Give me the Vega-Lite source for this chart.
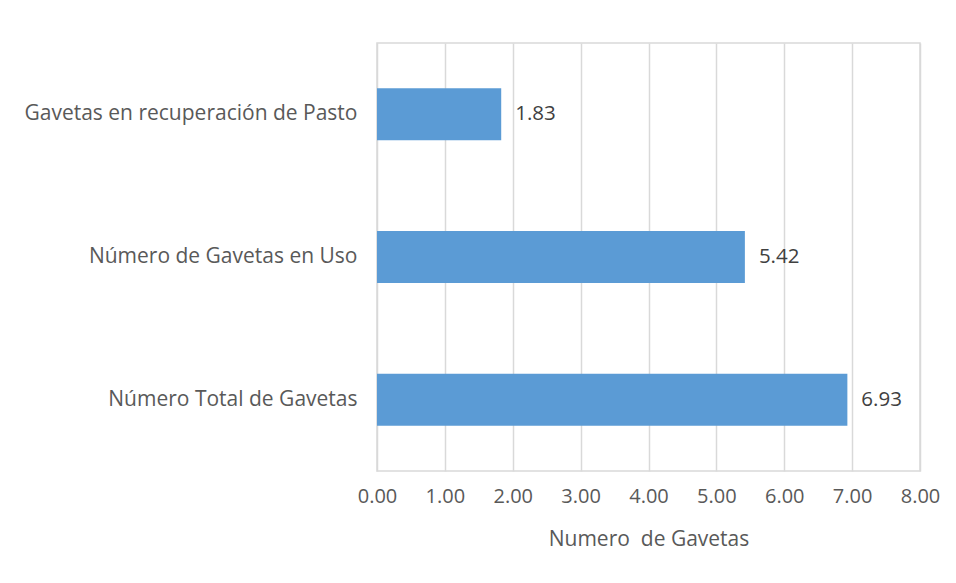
{
  "$schema": "https://vega.github.io/schema/vega-lite/v6.json",
  "width": 543,
  "height": 428,
  "autosize": {"type": "none"},
  "padding": {"left": 377, "top": 43, "right": 36, "bottom": 112},
  "background": "white",
  "config": {
    "font": "Open Sans",
    "view": {"stroke": "#d9d9d9", "strokeWidth": 1.5},
    "axis": {"labelColor": "#595959", "titleColor": "#595959", "labelFont": "Open Sans", "titleFont": "Open Sans"}
  },
  "data": {
    "values": [
      {"categoria": "Gavetas en recuperación de Pasto", "valor": 1.83},
      {"categoria": "Número de Gavetas en Uso", "valor": 5.42},
      {"categoria": "Número Total de Gavetas", "valor": 6.93}
    ]
  },
  "encoding": {
    "y": {
      "field": "categoria",
      "type": "nominal",
      "sort": null,
      "scale": {"paddingInner": 0.636, "paddingOuter": 0.318},
      "axis": {"title": null, "domain": false, "ticks": false, "labelFontSize": 21, "labelPadding": 20, "labelLimit": 400}
    },
    "x": {
      "field": "valor",
      "type": "quantitative",
      "scale": {"domain": [0, 8]},
      "axis": {
        "title": "Numero\u00a0 de Gavetas",
        "titleFontSize": 21,
        "titleFontWeight": "normal",
        "titlePadding": 22,
        "labelFontSize": 20,
        "labelPadding": 15,
        "labelOverlap": false,
        "labelFlush": false,
        "format": ".2f",
        "values": [0, 1, 2, 3, 4, 5, 6, 7, 8],
        "domain": false,
        "ticks": false,
        "grid": true,
        "gridColor": "#d9d9d9",
        "gridWidth": 1.5
      }
    }
  },
  "layer": [
    {"mark": {"type": "bar", "color": "#5b9bd5"}},
    {
      "mark": {"type": "text", "align": "left", "dx": 14, "fontSize": 20.5, "color": "#404040", "font": "Open Sans"},
      "encoding": {"text": {"field": "valor", "type": "quantitative", "format": ".2f"}}
    }
  ]
}
